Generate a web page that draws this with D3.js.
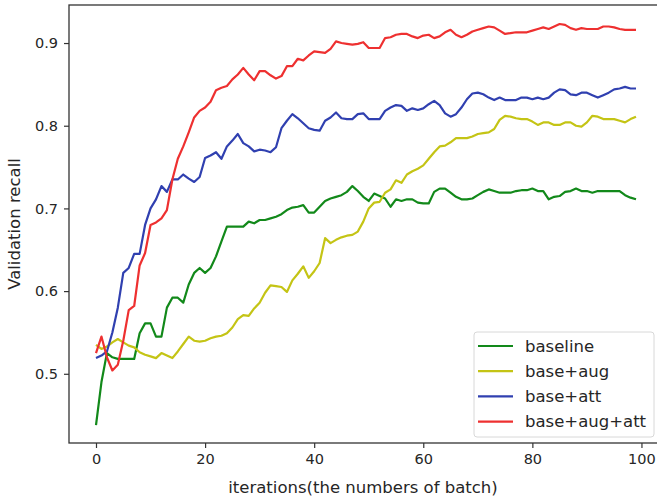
<!DOCTYPE html>
<html>
<head>
<meta charset="utf-8">
<script src="https://cdnjs.cloudflare.com/ajax/libs/d3/7.8.5/d3.min.js"></script>
<style>
  body { margin: 0; background: #fff; overflow: hidden; }
  text { font-family: "DejaVu Sans", sans-serif; fill: #262626; }
</style>
</head>
<body>
<div id="chart"></div>
<script>
// values, one per iteration (0..99)
const baseline = [
  0.438, 0.490, 0.525, 0.520, 0.518, 0.518, 0.518, 0.518, 0.549, 0.561,
  0.561, 0.545, 0.545, 0.580, 0.592, 0.592, 0.586, 0.608, 0.622, 0.628,
  0.622, 0.628, 0.642, 0.660, 0.678, 0.678, 0.678, 0.678, 0.684, 0.682,
  0.686, 0.686, 0.688, 0.690, 0.693, 0.698, 0.701, 0.702, 0.704, 0.695,
  0.695, 0.702, 0.709, 0.712, 0.714, 0.716, 0.720, 0.727, 0.721, 0.714,
  0.709, 0.718, 0.715, 0.712, 0.702, 0.711, 0.709, 0.711, 0.711, 0.707,
  0.706, 0.706, 0.720, 0.724, 0.724, 0.719, 0.714, 0.711, 0.711, 0.712,
  0.716, 0.720, 0.723, 0.721, 0.719, 0.719, 0.719, 0.721, 0.722, 0.722,
  0.724, 0.721, 0.721, 0.711, 0.714, 0.715, 0.720, 0.721, 0.724, 0.721,
  0.721, 0.719, 0.721, 0.721, 0.721, 0.721, 0.721, 0.716, 0.713, 0.711
];
const baseAug = [
  0.535, 0.530, 0.533, 0.538, 0.542, 0.538, 0.534, 0.532, 0.526, 0.523,
  0.521, 0.519, 0.525, 0.522, 0.519, 0.527, 0.536, 0.545, 0.540, 0.539,
  0.540, 0.543, 0.545, 0.546, 0.549, 0.556, 0.566, 0.571, 0.570, 0.579,
  0.586, 0.598, 0.607, 0.606, 0.605, 0.599, 0.613, 0.621, 0.630, 0.616,
  0.624, 0.634, 0.664, 0.658, 0.662, 0.665, 0.667, 0.668, 0.672, 0.684,
  0.700, 0.707, 0.708, 0.719, 0.723, 0.734, 0.731, 0.741, 0.745, 0.748,
  0.752, 0.760, 0.768, 0.775, 0.776, 0.780, 0.785, 0.785, 0.785, 0.787,
  0.790, 0.791, 0.792, 0.796, 0.807, 0.812, 0.811, 0.809, 0.808, 0.808,
  0.805, 0.801, 0.804, 0.804, 0.801, 0.801, 0.804, 0.804, 0.800, 0.799,
  0.804, 0.812, 0.811, 0.808, 0.808, 0.808, 0.806, 0.804, 0.808, 0.811
];
const baseAtt = [
  0.519, 0.522, 0.527, 0.550, 0.580, 0.622, 0.628, 0.645, 0.645, 0.680,
  0.700, 0.711, 0.727, 0.720, 0.735, 0.735, 0.741, 0.736, 0.732, 0.738,
  0.761, 0.764, 0.768, 0.760, 0.775, 0.782, 0.790, 0.779, 0.775, 0.769,
  0.771, 0.770, 0.768, 0.774, 0.797, 0.806, 0.814, 0.809, 0.803, 0.797,
  0.795, 0.794, 0.806, 0.810, 0.816, 0.809, 0.808, 0.808, 0.814, 0.815,
  0.808, 0.808, 0.808, 0.818, 0.822, 0.825, 0.824, 0.818, 0.821, 0.819,
  0.821, 0.826, 0.830, 0.825, 0.815, 0.811, 0.814, 0.822, 0.832, 0.839,
  0.840, 0.838, 0.834, 0.831, 0.834, 0.831, 0.831, 0.831, 0.834, 0.834,
  0.832, 0.834, 0.832, 0.834, 0.840, 0.844, 0.843, 0.838, 0.837, 0.840,
  0.840, 0.837, 0.834, 0.837, 0.840, 0.844, 0.845, 0.847, 0.845, 0.845
];
const baseAugAtt = [
  0.525, 0.545, 0.520, 0.504, 0.511, 0.540, 0.577, 0.582, 0.631, 0.646,
  0.680, 0.683, 0.688, 0.698, 0.735, 0.760, 0.775, 0.792, 0.810, 0.818,
  0.822, 0.829, 0.843, 0.846, 0.848, 0.856, 0.862, 0.870, 0.862, 0.855,
  0.866, 0.866, 0.861, 0.857, 0.860, 0.872, 0.872, 0.881, 0.879, 0.885,
  0.890, 0.889, 0.888, 0.893, 0.902, 0.900, 0.899, 0.898, 0.899, 0.901,
  0.894, 0.894, 0.894, 0.906, 0.907, 0.910, 0.911, 0.911, 0.908, 0.906,
  0.909, 0.910, 0.906, 0.908, 0.913, 0.916, 0.910, 0.907, 0.910, 0.914,
  0.916, 0.918, 0.920, 0.919, 0.915, 0.911, 0.912, 0.913, 0.913, 0.913,
  0.915, 0.917, 0.919, 0.917, 0.920, 0.923, 0.922, 0.918, 0.916, 0.918,
  0.917, 0.917, 0.917, 0.920, 0.920, 0.919, 0.917, 0.916, 0.916, 0.916
];
const seriesNames = ['baseline', 'base+aug', 'base+att', 'base+aug+att'];
const seriesColors = ['#12891a', '#c4c415', '#3040b0', '#ee3030'];
const xTicks = [0, 20, 40, 60, 80, 100];
const yTicks = [0.5, 0.6, 0.7, 0.8, 0.9];

const margin = {top: 5, left: 69};
const width = 594;   // plot runs past the right edge of the window, like the reference
const height = 438;

const svg = d3.select('#chart').append('svg')
    .attr('width', 657)
    .attr('height', 500);

const chart = svg.append('g')
    .attr('transform', 'translate(' + margin.left + ',' + margin.top + ')');

let x = d3.scaleLinear().domain([-4.95, 103.95]).range([0, width]);
let y = d3.scaleLinear().domain([0.4163, 0.946]).range([height, 0]);

const line = d3.line()
    .x((d, i) => x(i))
    .y(d => y(d));

[baseline, baseAug, baseAtt, baseAugAtt].forEach((s, k) => {
    chart.append('path')
        .datum(s)
        .attr('fill', 'none')
        .attr('stroke', seriesColors[k])
        .attr('stroke-width', 2.2)
        .attr('stroke-linejoin', 'round')
        .attr('d', line);
});

// axes
let xAxis = d3.axisBottom(x).tickValues(xTicks).tickSize(5).tickPadding(6).tickFormat(d3.format('d'));
let yAxis = d3.axisLeft(y).tickValues(yTicks).tickSize(5).tickPadding(6).tickFormat(d3.format('.1f'));

const gx = chart.append('g')
    .attr('transform', 'translate(0,' + height + ')')
    .call(xAxis);
const gy = chart.append('g').call(yAxis);

[gx, gy].forEach(g => {
    g.select('.domain').remove();
    g.selectAll('line').attr('stroke', '#333').attr('stroke-width', 1.2);
    g.selectAll('text').style('font-size', '14.5px').attr('fill', '#262626');
});

// spines
chart.append('rect')
    .attr('x', 0).attr('y', 0)
    .attr('width', width).attr('height', height)
    .attr('fill', 'none')
    .attr('stroke', '#333')
    .attr('stroke-width', 1.3);

// axis titles
chart.append('text')
    .attr('x', width / 2 - 3)
    .attr('y', height + 50)
    .attr('text-anchor', 'middle')
    .style('font-size', '16.5px')
    .text('iterations(the numbers of batch)');

svg.append('text')
    .attr('transform', 'translate(20,' + (margin.top + height / 2) + ') rotate(-90)')
    .attr('text-anchor', 'middle')
    .style('font-size', '16.5px')
    .text('Validation recall');

// legend
const legend = svg.append('g').attr('transform', 'translate(474,332)');
legend.append('rect')
    .attr('width', 180).attr('height', 105)
    .attr('rx', 3)
    .attr('fill', 'rgba(255,255,255,0.85)')
    .attr('stroke', '#d8d8d8');

seriesNames.forEach((name, k) => {
    const row = legend.append('g').attr('transform', 'translate(0,' + (14 + k * 25.2) + ')');
    row.append('line')
        .attr('x1', 4).attr('x2', 39)
        .attr('stroke', seriesColors[k])
        .attr('stroke-width', 2.2);
    row.append('text')
        .attr('x', 51)
        .attr('dy', '0.35em')
        .style('font-size', '16.5px')
        .text(name);
});
</script>
</body>
</html>
